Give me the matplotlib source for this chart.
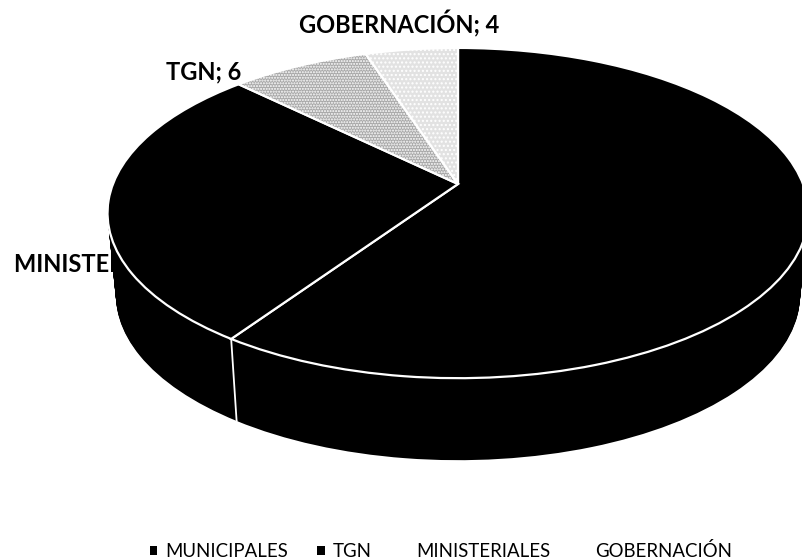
import numpy as np
import matplotlib
matplotlib.use("Agg")
import matplotlib.pyplot as plt
from matplotlib.patches import Patch
from matplotlib.transforms import Transform

# clockwise from twelve o'clock, as the slices sit on the pie
sliceNames = ["MUNICIPALES", "MINISTERIALES", "TGN", "GOBERNACIÓN"]
sliceValues = [47, 22, 6, 4]
sliceColors = ["black", "black", "#a8a8a8", "#e2e2e2"]

# order in the legend is not the order of the slices
legendNames = ["MUNICIPALES", "TGN", "MINISTERIALES", "GOBERNACIÓN"]
legendColors = ["black", "black", "white", "white"]


# tilted pie, the far side gets smaller
class Tilt(Transform):
    input_dims = 2
    output_dims = 2
    is_separable = False

    def __init__(self, drop=0.0, scale=1.0):
        super().__init__()
        self.drop = drop
        self.scale = scale

    def transform_non_affine(self, xy):
        xy = np.asarray(xy, dtype=float)
        w = 1 + 0.176 * xy[:, 1]
        px = 458 + self.scale * 345 * xy[:, 0] / w
        py = 376 + 160 * xy[:, 1] / w - self.drop
        return np.column_stack([px, py])


fig = plt.figure(figsize=(8.02, 5.60), dpi=100)
ax = fig.add_axes([0, 0, 1, 1])

# side wall, a stack of black pies
depth = 82
for d in range(depth, 0, -1):
    wall, _ = ax.pie(sliceValues, startangle=90, counterclock=False, colors=["black"] * 4)
    for w in wall:
        w.set_transform(Tilt(d, 1 - 0.024 * d / depth) + ax.transData)
        w.set_zorder(3)

top, _ = ax.pie(sliceValues, startangle=90, counterclock=False, colors=sliceColors,
                wedgeprops={"edgecolor": "white", "linewidth": 1.6})
for w in top:
    w.set_transform(Tilt() + ax.transData)
    w.set_zorder(4)
top[2].set_hatch("......")
top[3].set_hatch("....")

# white seam on the side wall, under the municipales/ministeriales border
seamAngle = np.pi / 2 - 2 * np.pi * sliceValues[0] / sum(sliceValues)
seam = np.array([[np.cos(seamAngle), np.sin(seamAngle)]])
seamTop = Tilt().transform(seam)[0]
seamBottom = Tilt(depth, 1 - 0.024).transform(seam)[0]
ax.plot([seamTop[0], seamBottom[0]], [seamTop[1], seamBottom[1]], color="white", lw=1.3, zorder=5)

ax.set_xlim(0, 802)
ax.set_ylim(0, 560)
ax.set_aspect("auto")
ax.axis("off")

labelFont = {"family": "Lato", "weight": "bold", "fontsize": 17, "color": "black"}
ax.text(399, 536, "GOBERNACIÓN; 4", ha="center", va="center", zorder=6, **labelFont)
ax.text(204, 488, "TGN; 6", ha="center", va="center", zorder=6, **labelFont)
ax.text(14, 296, "MINISTERIALES; 22", ha="left", va="center", zorder=1, **labelFont)

handles = [Patch(facecolor=c, edgecolor="none") for c in legendColors]
ax.legend(handles, legendNames, loc="center", bbox_to_anchor=(0.55, 0.016), ncol=4, frameon=False,
          prop={"family": "Lato", "size": 13.4}, handlelength=0.4, handleheight=0.4,
          handletextpad=0.45, columnspacing=1.55)

plt.savefig("out.png", dpi=100)
